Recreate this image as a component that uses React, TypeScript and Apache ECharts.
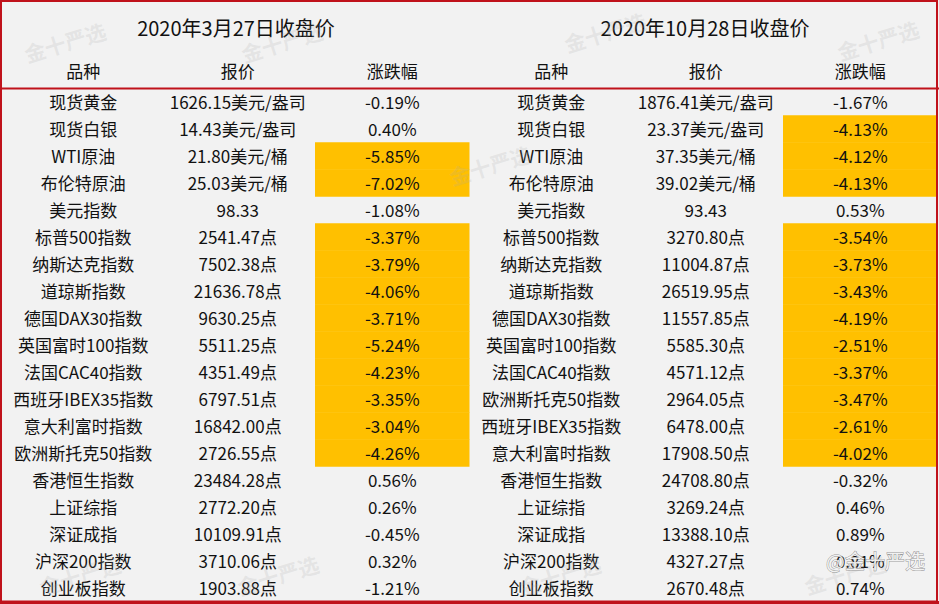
import React, { useEffect, useRef } from "react";
import * as echarts from "echarts";

const TITLES = ["2020年3月27日收盘价", "2020年10月28日收盘价"];
const HEADERS = ["品种", "报价", "涨跌幅"];

const names1 = ["现货黄金", "现货白银", "WTI原油", "布伦特原油", "美元指数", "标普500指数", "纳斯达克指数", "道琼斯指数", "德国DAX30指数", "英国富时100指数", "法国CAC40指数", "西班牙IBEX35指数", "意大利富时指数", "欧洲斯托克50指数", "香港恒生指数", "上证综指", "深证成指", "沪深200指数", "创业板指数"];
const prices1 = ["1626.15美元/盎司", "14.43美元/盎司", "21.80美元/桶", "25.03美元/桶", "98.33", "2541.47点", "7502.38点", "21636.78点", "9630.25点", "5511.25点", "4351.49点", "6797.51点", "16842.00点", "2726.55点", "23484.28点", "2772.20点", "10109.91点", "3710.06点", "1903.88点"];
const changes1 = [-0.19, 0.40, -5.85, -7.02, -1.08, -3.37, -3.79, -4.06, -3.71, -5.24, -4.23, -3.35, -3.04, -4.26, 0.56, 0.26, -0.45, 0.32, -1.21];
const highlight1 = [2, 3, 5, 6, 7, 8, 9, 10, 11, 12, 13];

const names2 = ["现货黄金", "现货白银", "WTI原油", "布伦特原油", "美元指数", "标普500指数", "纳斯达克指数", "道琼斯指数", "德国DAX30指数", "英国富时100指数", "法国CAC40指数", "欧洲斯托克50指数", "西班牙IBEX35指数", "意大利富时指数", "香港恒生指数", "上证综指", "深证成指", "沪深200指数", "创业板指数"];
const prices2 = ["1876.41美元/盎司", "23.37美元/盎司", "37.35美元/桶", "39.02美元/桶", "93.43", "3270.80点", "11004.87点", "26519.95点", "11557.85点", "5585.30点", "4571.12点", "2964.05点", "6478.00点", "17908.50点", "24708.80点", "3269.24点", "13388.10点", "4327.27点", "2670.48点"];
const changes2 = [-1.67, -4.13, -4.12, -4.13, 0.53, -3.54, -3.73, -3.43, -4.19, -2.51, -3.37, -3.47, -2.61, -4.02, -0.32, 0.46, 0.89, 0.81, 0.74];
const highlight2 = [1, 2, 3, 5, 6, 7, 8, 9, 10, 11, 12, 13];

const FONT = '"Noto Sans CJK SC", "Noto Sans", sans-serif';
const RED = "#c0121b";
const YELLOW = "#ffc000";
const BG = "#f2f2f2";

type Cell = { col: number; row: number; text: string; hl: boolean };

function buildCells(names: string[], prices: string[], changes: number[], hl: number[]): Cell[] {
  const cells: Cell[] = [];
  names.forEach((n, i) => {
    cells.push({ col: 0, row: i, text: n, hl: false });
    cells.push({ col: 1, row: i, text: prices[i], hl: false });
    cells.push({ col: 2, row: i, text: changes[i].toFixed(2) + "%", hl: hl.includes(i) });
  });
  return cells;
}

function makeSeries(cells: Cell[], gridIndex: number) {
  return {
    type: "custom",
    xAxisIndex: gridIndex,
    yAxisIndex: gridIndex,
    data: cells.map((c) => [c.col, c.row]),
    encode: { x: 0, y: 1 },
    clip: false,
    renderItem: (params: any, api: any) => {
      const cell = cells[params.dataIndex];
      const p = api.coord([api.value(0), api.value(1)]);
      const s = api.size([1, 1]);
      const children: any[] = [];
      if (cell.hl) {
        children.push({
          type: "rect",
          shape: { x: p[0] - s[0] / 2, y: p[1] - s[1] / 2 - 0.3, width: s[0], height: s[1] + 0.6 },
          style: { fill: YELLOW },
        });
      }
      children.push({
        type: "text",
        x: p[0],
        y: p[1] - 0.5,
        style: {
          text: cell.text,
          fill: "#111111",
          font: `17px ${FONT}`,
          textAlign: "center",
          textVerticalAlign: "middle",
        },
      });
      return { type: "group", children };
    },
  };
}

const rowCats = names1.map((_, i) => String(i));

export default function App() {
  const ref = useRef<HTMLDivElement>(null);
  useEffect(() => {
    if (!ref.current) return;
    const chart = echarts.init(ref.current, null, { renderer: "svg" });
    const cells1 = buildCells(names1, prices1, changes1, highlight1);
    const cells2 = buildCells(names2, prices2, changes2, highlight2);
    const gridTop = 88.5;
    const rowH = 27;
    const grids = [
      { left: 6, top: gridTop, width: 463.5, height: rowH * names1.length },
      { left: 474, top: gridTop, width: 463.5, height: rowH * names2.length },
    ];
    const xAxis = grids.map((_, gi) => ({
      type: "category",
      gridIndex: gi,
      position: "top",
      data: HEADERS,
      axisLine: { show: false },
      axisTick: { show: false },
      splitLine: { show: false },
      axisLabel: { color: "#111111", fontSize: 17, fontFamily: FONT, margin: 10, lineHeight: 17 },
    }));
    const yAxis = grids.map((_, gi) => ({
      type: "category",
      gridIndex: gi,
      inverse: true,
      data: rowCats,
      show: false,
    }));
    const watermark = (x: number, y: number) => ({
      type: "text",
      x,
      y,
      rotation: 0.3,
      z: 50,
      silent: true,
      style: {
        text: "金十严选",
        fill: "rgba(170,170,170,0.2)",
        font: `bold 21px ${FONT}`,
        textAlign: "center",
        textVerticalAlign: "middle",
      },
    });
    chart.setOption({
      animation: false,
      backgroundColor: BG,
      grid: grids,
      xAxis,
      yAxis,
      series: [makeSeries(cells1, 0), makeSeries(cells2, 1)],
      graphic: [
        {
          type: "text",
          x: 236,
          y: 27,
          style: { text: TITLES[0], fill: "#111111", font: `20px ${FONT}`, textAlign: "center", textVerticalAlign: "middle" },
        },
        {
          type: "text",
          x: 705,
          y: 27,
          style: { text: TITLES[1], fill: "#111111", font: `20px ${FONT}`, textAlign: "center", textVerticalAlign: "middle" },
        },
        watermark(65, 42),
        watermark(282, 42),
        watermark(605, 32),
        watermark(878, 40),
        watermark(490, 165),
        watermark(80, 575),
        watermark(278, 575),
        watermark(560, 575),
        watermark(845, 574),
        {
          type: "text",
          x: 925,
          y: 560,
          z: 60,
          silent: true,
          style: {
            text: "@金十严选",
            fill: "rgba(255,255,255,0.85)",
            stroke: "rgba(90,90,90,0.6)",
            lineWidth: 1,
            font: `20px ${FONT}`,
            textAlign: "right",
            textVerticalAlign: "middle",
          },
        },
        {
          type: "line",
          z: 100,
          shape: { x1: 0, y1: 88.5, x2: 939, y2: 88.5 },
          style: { stroke: RED, lineWidth: 2 },
        },
        {
          type: "rect",
          z: 100,
          shape: { x: 1, y: 1, width: 936, height: 600.5 },
          style: { fill: "none", stroke: RED, lineWidth: 2 },
        },
        {
          type: "line",
          z: 100,
          shape: { x1: 0, y1: 602.5, x2: 939, y2: 602.5 },
          style: { stroke: RED, lineWidth: 3 },
        },
      ],
    });
    return () => chart.dispose();
  }, []);
  return (
    <div
      ref={ref}
      style={{ position: "fixed", left: 0, top: 0, width: 939, height: 604 }}
    />
  );
}
